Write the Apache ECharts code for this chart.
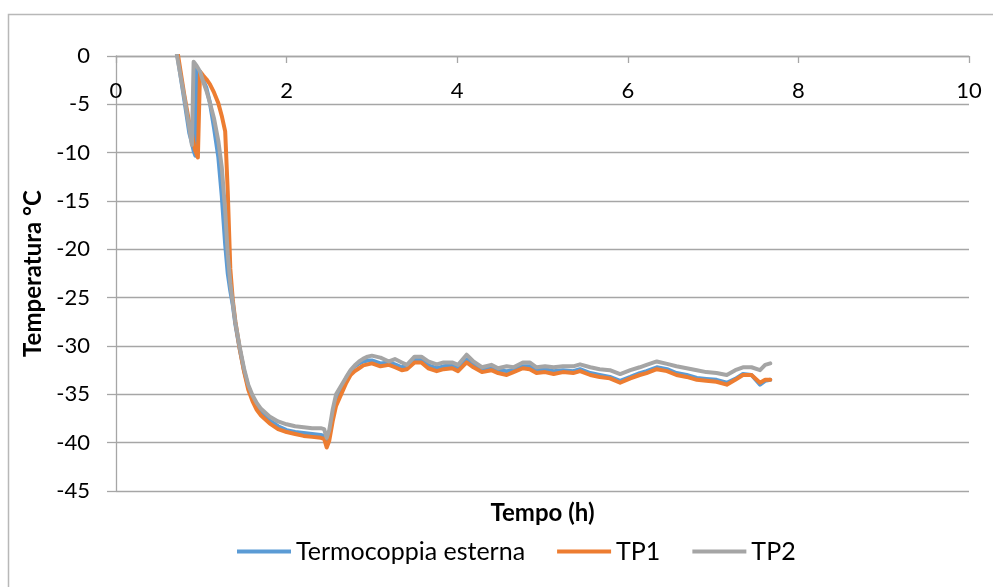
<!DOCTYPE html>
<html>
<head>
<meta charset="utf-8">
<script src="https://cdn.jsdelivr.net/npm/echarts@6/dist/echarts.min.js"></script>
<style>
html,body{margin:0;padding:0;background:#fff;}
#chart{width:993px;height:587px;}
</style>
</head>
<body>
<div id="chart"></div>
<script>
// Time (h)
const timeH = [0.65, 0.72, 0.80, 0.86, 0.89, 0.91, 0.93, 0.945, 0.96, 0.985,
  1.02, 1.06, 1.10, 1.15, 1.20, 1.24, 1.28, 1.31, 1.34, 1.37, 1.40,
  1.45, 1.50, 1.55, 1.60, 1.65, 1.70, 1.80, 1.90, 2.00, 2.10, 2.20, 2.30, 2.40,
  2.44, 2.47, 2.50, 2.54, 2.58, 2.62, 2.66, 2.70, 2.75, 2.80, 2.85, 2.90, 2.95, 3.00,
  3.10, 3.20, 3.27, 3.35, 3.41, 3.50, 3.58, 3.66, 3.76, 3.84,
  3.94, 4.01, 4.11, 4.19, 4.29, 4.40, 4.48, 4.58, 4.66, 4.77,
  4.85, 4.93, 5.03, 5.13, 5.24, 5.36, 5.44, 5.56, 5.67, 5.79,
  5.91, 6.03, 6.14, 6.22, 6.34, 6.46, 6.57, 6.69, 6.81, 6.92,
  7.04, 7.16, 7.26, 7.35, 7.45, 7.55, 7.61, 7.67];

// Termocoppia esterna
const termocoppiaEsterna = [4, 0, -4.5, -8, -9, -9.8, -10.3, -1.2, -1.3, -1.8,
  -2.5, -3.3, -4.8, -7.5, -10.5, -14.5, -19.5, -22.5, -24.3, -25.8, -27.8,
  -30.3, -32.5, -34.2, -35.3, -36.1, -36.8, -37.7, -38.3, -38.7, -38.9, -39.0, -39.1, -39.2,
  -39.3, -40.0, -39.2, -37.2, -35.6, -34.9, -34.1, -33.3, -32.6, -32.1, -31.8, -31.6, -31.5, -31.5,
  -31.8, -31.7, -31.9, -32.2, -32.0, -31.4, -31.4, -32.0, -32.3, -32.1,
  -32.0, -32.3, -31.4, -31.9, -32.4, -32.2, -32.5, -32.6, -32.5, -32.1,
  -32.1, -32.5, -32.4, -32.6, -32.5, -32.6, -32.4, -32.8, -33.0, -33.2,
  -33.6, -33.2, -32.8, -32.6, -32.2, -32.4, -32.8, -33.0, -33.3, -33.4,
  -33.5, -33.8, -33.4, -32.9, -33.0, -34.0, -33.6, -33.5];

// TP1
const tp1 = [4, 0.5, -4.0, -7.0, -8, -9, -9.8, -10.0, -10.5, -1.6,
  -2.0, -2.4, -2.9, -3.8, -4.9, -6.2, -7.8, -14, -22, -25.3, -27.5,
  -30.3, -32.6, -34.5, -35.7, -36.6, -37.2, -38.0, -38.6, -38.9, -39.1, -39.3, -39.4, -39.5,
  -39.6, -40.5, -39.8, -37.8, -36.2, -35.4, -34.6, -33.8, -33.0, -32.6, -32.3, -32.0, -31.9, -31.8,
  -32.1, -31.95, -32.2, -32.5, -32.4, -31.7, -31.7, -32.3, -32.6, -32.4,
  -32.3, -32.6, -31.7, -32.2, -32.7, -32.5, -32.8, -33.0, -32.7, -32.3,
  -32.4, -32.8, -32.7, -32.9, -32.7, -32.8, -32.6, -33.0, -33.2, -33.35,
  -33.8, -33.35, -33.0, -32.8, -32.4, -32.6, -33.0, -33.2, -33.5, -33.6,
  -33.7, -34.0, -33.5, -33.0, -33.0, -33.8, -33.5, -33.5];

// TP2
const tp2 = [4, -0.2, -4.2, -7.5, -9.2, -0.6, -0.8, -1.0, -1.2, -1.6,
  -2.6, -3.6, -4.8, -6.5, -8.8, -11.5, -16, -20.5, -23.5, -25.6, -27.6,
  -30.1, -32.3, -34.0, -35.1, -35.9, -36.5, -37.3, -37.8, -38.1, -38.3, -38.4, -38.5, -38.5,
  -38.6, -39.5, -38.7, -36.6, -35.0, -34.4, -33.8, -33.2, -32.5, -32.0, -31.6, -31.3, -31.1, -31.0,
  -31.2, -31.6, -31.35, -31.7, -31.95, -31.1, -31.1, -31.6, -31.9, -31.7,
  -31.7, -31.95, -30.9, -31.6, -32.2, -31.95, -32.3, -32.1, -32.2, -31.7,
  -31.7, -32.2, -32.1, -32.2, -32.1, -32.1, -31.9, -32.2, -32.4, -32.5,
  -32.9, -32.5, -32.2, -31.95, -31.6, -31.85, -32.1, -32.3, -32.5, -32.7,
  -32.8, -33.0, -32.5, -32.2, -32.2, -32.5, -31.95, -31.8];

const seriesNames = ['Termocoppia esterna', 'TP1', 'TP2'];
const seriesValues = [termocoppiaEsterna, tp1, tp2];
const colors = ['#5B9BD5', '#ED7D31', '#A5A5A5'];

const FONT = 'Lato';
const gridColor = '#a6a6a6';

const chart = echarts.init(document.getElementById('chart'), null, {renderer: 'canvas'});

const option = {
  animation: false,
  backgroundColor: '#ffffff',
  graphic: [{
    type: 'rect',
    z: -10,
    shape: {x: 8.5, y: 14.5, width: 1100, height: 700},
    style: {fill: 'none', stroke: '#b8b8b8', lineWidth: 1.5}
  }],
  grid: {left: 116, top: 56, width: 853, height: 435, containLabel: false},
  legend: {
    data: seriesNames,
    left: 237,
    top: 539,
    padding: 0,
    icon: 'rect',
    itemWidth: 54,
    itemHeight: 4,
    itemGap: 32,
    textStyle: {fontFamily: FONT, fontSize: 25, color: '#000'}
  },
  xAxis: [{
    type: 'value',
    min: 0, max: 10, interval: 2,
    position: 'top',
    axisLine: {show: true, onZero: false, lineStyle: {color: gridColor, width: 1.3}},
    axisTick: {show: true, inside: true, length: 7, lineStyle: {color: gridColor, width: 1.3}},
    axisLabel: {inside: true, margin: 24, fontFamily: FONT, fontSize: 22, color: '#000'},
    splitLine: {show: false}
  }, {
    type: 'value',
    min: 0, max: 10, interval: 2,
    position: 'bottom',
    axisLine: {show: false},
    axisTick: {show: false},
    axisLabel: {show: false},
    splitLine: {show: false},
    name: 'Tempo (h)',
    nameLocation: 'middle',
    nameGap: 10,
    nameTextStyle: {fontFamily: FONT, fontSize: 24, fontWeight: 'bold', color: '#000'}
  }],
  yAxis: {
    type: 'value',
    min: -45, max: 0, interval: 5,
    axisLine: {show: true, onZero: false, lineStyle: {color: gridColor, width: 1.3}},
    axisTick: {show: true, length: 9, lineStyle: {color: gridColor, width: 1.3}},
    axisLabel: {margin: 26, fontFamily: FONT, fontSize: 22, color: '#000'},
    splitLine: {show: true, lineStyle: {color: gridColor, width: 1.3}},
    name: 'Temperatura °C',
    nameLocation: 'middle',
    nameGap: 71,
    nameTextStyle: {fontFamily: FONT, fontSize: 24, fontWeight: 'bold', color: '#000'}
  },
  series: seriesNames.map((name, k) => ({
    name: name,
    type: 'line',
    xAxisIndex: 0,
    showSymbol: false,
    clip: true,
    color: colors[k],
    lineStyle: {width: 4, color: colors[k], join: 'round', cap: 'round'},
    data: timeH.map((t, i) => [t, seriesValues[k][i]])
  }))
};

chart.setOption(option);
</script>
</body>
</html>
